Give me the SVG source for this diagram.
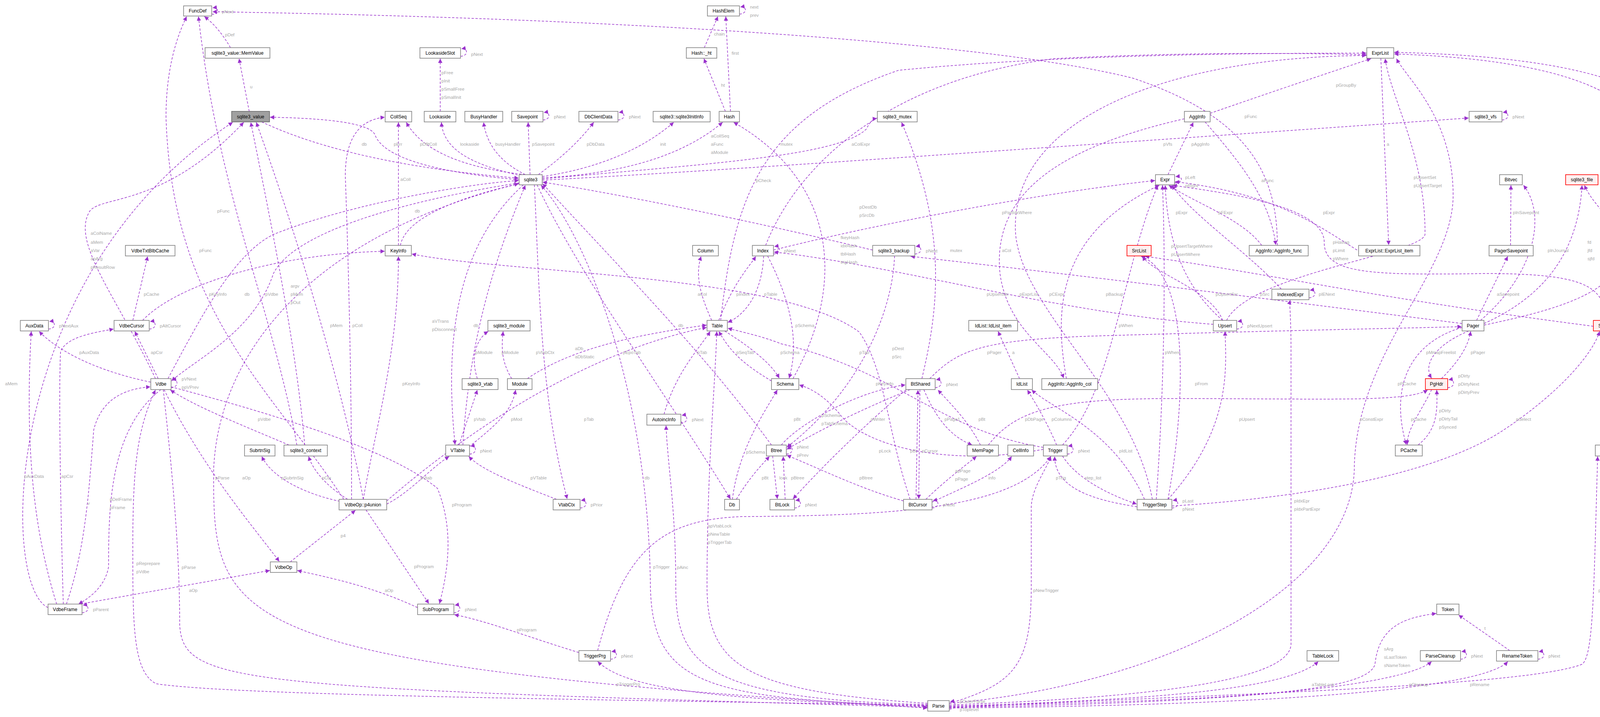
<svg xmlns="http://www.w3.org/2000/svg" width="4436" height="1835" viewBox="0 0 4436 1835">
<defs>
<marker id="a" viewBox="0 0 10 10" refX="10" refY="5" markerWidth="11" markerHeight="11" markerUnits="userSpaceOnUse" orient="auto"><path d="M0,0 L10,5 L0,10 z" fill="#9a32cd"/></marker>
</defs>
<style>
.n rect{fill:#fff;stroke:#808080;stroke-width:1.6}
.n.red rect{fill:#fff0f0;stroke:#ff0000}
.n.gr rect{fill:#a0a0a0;stroke:#666}
.n text{font-family:"Liberation Sans",Arial,sans-serif;font-size:12px;text-anchor:middle;fill:#000}
#edges path{fill:none;stroke:#9a32cd;stroke-width:1.5;stroke-dasharray:6,4;marker-end:url(#a)}
#labels text{font-family:"Liberation Sans",Arial,sans-serif;font-size:11.5px;fill:#a8a8a8}
</style>
<rect width="4436" height="1835" fill="#fff"/>
<g id="edges">
<path d="M542,36 C562,40 562,18 544,20"/>
<path d="M590,122 Q560,70 523,42"/>
<path d="M638,285 L612,150"/>
<path d="M670,312 Q900,420 1328,456"/>
<path d="M1329,460 C1100,440 980,400 960,345 C945,310 800,302 691,300"/>
<path d="M398,969 C300,760 180,620 230,540 C260,500 420,530 624,313"/>
<path d="M780,1139 C760,900 700,600 642,313"/>
<path d="M930,1278 C880,1000 760,600 656,313"/>
<path d="M123,1555 C0,1500 0,700 596,313"/>
<path d="M1345,447 Q1100,420 1040,313"/>
<path d="M1020,628 L1020,313"/>
<path d="M900,1278 Q900,900 884,450 Q884,310 985,300"/>
<path d="M760,1139 C700,800 560,500 508,42"/>
<path d="M880,1278 C700,1000 440,800 425,300 Q425,150 478,42"/>
<path d="M3270,628 C3270,450 3200,300 2900,200 C2500,100 1500,45 544,30"/>
<path d="M1179,144 C1199,144 1199,122 1181,125"/>
<path d="M1127,285 L1127,150"/>
<path d="M1335,450 C1200,420 1135,380 1130,313"/>
<path d="M1345,447 Q1250,400 1238,313"/>
<path d="M1357,447 L1352,313"/>
<path d="M1390,307 C1410,307 1410,285 1392,288"/>
<path d="M1378,447 Q1470,380 1520,313"/>
<path d="M1582,307 C1602,307 1602,285 1584,288"/>
<path d="M1388,452 Q1600,420 1725,313"/>
<path d="M1388,455 Q1700,440 1850,313"/>
<path d="M1857,285 L1802,150"/>
<path d="M1870,285 L1858,42"/>
<path d="M1803,122 L1838,42"/>
<path d="M1893,36 C1913,36 1913,15 1895,18"/>
<path d="M2030,969 C2180,700 2120,450 1878,313"/>
<path d="M1388,458 C1800,420 2150,400 2218,330 Q2230,305 2245,303"/>
<path d="M2360,969 C2400,800 2430,600 2308,313"/>
<path d="M1388,461 C1800,440 2500,390 3760,302"/>
<path d="M3845,307 C3865,307 3865,285 3847,288"/>
<path d="M3007,468 C3030,468 3030,450 3009,452"/>
<path d="M2990,447 L3055,313"/>
<path d="M3098,290 Q3300,220 3510,150"/>
<path d="M3085,312 C3160,400 3250,500 3266,627"/>
<path d="M3032,304 C2700,380 2540,500 2560,700 C2580,850 2700,900 2723,968"/>
<path d="M1845,820 C1880,500 1950,300 2300,180 C2700,140 3200,136 3498,136"/>
<path d="M1960,628 C2050,400 2300,200 2700,150 Q3100,130 3498,140"/>
<path d="M4110,820 Q4225,700 4224,400 Q4220,160 3569,138"/>
<path d="M4290,969 Q4327,900 4327,400 Q4320,150 3569,134"/>
<path d="M3535,149 L3555,627"/>
<path d="M3140,820 C3200,700 3640,650 3648,600 C3650,400 3560,250 3546,150"/>
<path d="M2950,1278 C2900,1000 2620,800 2600,600 C2580,300 3000,145 3498,142"/>
<path d="M2430,1800 C3000,1750 3460,1500 3467,1200 C3470,900 3720,700 3720,500 C3720,300 3600,200 3575,150"/>
<path d="M3500,655 C3400,600 3300,500 3008,465"/>
<path d="M3230,628 C3180,560 3060,520 2992,474"/>
<path d="M2730,969 C2700,800 2700,600 2968,474"/>
<path d="M1980,640 C2300,560 2700,490 2957,462"/>
<path d="M3280,740 C3200,650 3050,550 3000,474"/>
<path d="M3130,820 C3050,750 2990,650 2983,474"/>
<path d="M4110,820 C4110,730 4050,700 3800,700 C3500,705 3390,700 3390,620 C3390,520 3100,490 3002,474"/>
<path d="M2960,1278 C2980,1000 2985,700 2976,474"/>
<path d="M2720,1139 C2850,1000 2870,700 2964,474"/>
<path d="M4079,835 C3500,760 3250,700 2931,656"/>
<path d="M3130,820 C3100,740 2950,700 2925,656"/>
<path d="M2990,1278 C3040,1000 3040,700 2921,656"/>
<path d="M3166,842 C3186,842 3186,820 3168,823"/>
<path d="M3106,830 C2700,800 2300,680 1981,645"/>
<path d="M2990,1278 C3150,1100 3140,950 3136,848"/>
<path d="M2342,650 C2362,650 2362,628 2344,631"/>
<path d="M2234,640 C1900,560 1600,500 1389,466"/>
<path d="M2290,655 C2285,800 2200,1000 2014,1145"/>
<path d="M3743,828 C3200,760 2900,720 2331,656"/>
<path d="M3780,820 L3860,656"/>
<path d="M3867,628 L3868,474"/>
<path d="M3790,820 C3930,700 3960,550 3900,474"/>
<path d="M3799,828 C3950,760 4040,650 4050,474"/>
<path d="M4160,628 C4150,580 4080,530 4056,474"/>
<path d="M3799,832 C4000,790 4120,750 4160,656"/>
<path d="M3760,847 C3680,880 3640,930 3665,968"/>
<path d="M3690,969 C3740,920 3760,880 3765,848"/>
<path d="M3706,992 C3726,992 3726,969 3708,972"/>
<path d="M3743,838 C3600,880 3560,1000 3600,1138"/>
<path d="M3665,997 C3640,1050 3600,1100 3603,1138"/>
<path d="M3630,1139 C3680,1100 3680,1050 3678,998"/>
<path d="M2530,1139 C2600,1050 2700,1020 3000,1020 C3400,1020 3600,1030 3655,998"/>
<path d="M2380,969 C2450,900 2500,870 2800,860 C3300,845 3600,840 3742,836"/>
<path d="M4138,842 C4158,842 4158,820 4140,823"/>
<path d="M4108,847 L4108,1138"/>
<path d="M4262,969 L4131,848"/>
<path d="M4125,1139 L4264,998"/>
<path d="M4132,1162 C4152,1162 4152,1139 4134,1142"/>
<path d="M4290,969 L4385,848"/>
<path d="M3000,1295 C3400,1270 3700,1200 3850,1100 C4000,1000 4080,900 4095,848"/>
<path d="M2430,1812 C3000,1780 3900,1760 4050,1700 C4080,1680 4080,1500 4090,1168"/>
<path d="M430,969 C520,800 600,650 700,600 C900,520 1200,470 1328,462"/>
<path d="M1329,468 C1000,520 750,600 700,700 C650,850 500,920 439,975"/>
<path d="M438,992 C458,992 458,969 440,972"/>
<path d="M405,969 L345,848"/>
<path d="M382,842 C402,842 402,820 384,823"/>
<path d="M340,820 L378,656"/>
<path d="M365,820 C450,730 700,650 985,643"/>
<path d="M386,978 C250,950 150,900 100,848"/>
<path d="M124,842 C144,842 144,820 126,823"/>
<path d="M170,1546 C220,1400 228,1250 240,1100 C260,1020 320,995 385,990"/>
<path d="M145,1546 C100,1400 60,1200 80,848"/>
<path d="M162,1546 C155,1300 150,1000 155,900 C170,860 250,850 291,842"/>
<path d="M412,997 C280,1100 278,1300 278,1450 C270,1500 230,1530 201,1546"/>
<path d="M210,1568 C230,1568 230,1546 212,1549"/>
<path d="M205,1546 L691,1460"/>
<path d="M420,997 C520,1200 650,1350 715,1437"/>
<path d="M743,1438 L910,1306"/>
<path d="M937,1305 L1098,1545"/>
<path d="M1069,1555 C950,1500 850,1480 761,1460"/>
<path d="M1162,1568 C1182,1568 1182,1546 1164,1549"/>
<path d="M1482,1670 C1350,1630 1250,1590 1163,1573"/>
<path d="M1563,1687 C1583,1687 1583,1665 1565,1668"/>
<path d="M2375,1808 C1800,1790 1600,1760 1530,1693"/>
<path d="M438,990 C700,1060 1000,1150 1120,1250 C1160,1350 1150,1450 1125,1545"/>
<path d="M880,1285 C800,1270 700,1230 670,1168"/>
<path d="M890,1278 C830,1240 800,1200 790,1168"/>
<path d="M930,1278 C960,1100 1020,900 1020,656"/>
<path d="M990,1290 C1050,1260 1100,1200 1150,1168"/>
<path d="M990,1282 C1200,1100 1500,900 1809,838"/>
<path d="M740,1139 C600,1080 500,1040 436,998"/>
<path d="M2375,1805 C1500,1790 600,1780 400,1750 C340,1720 340,1600 340,1400 C340,1200 350,1100 398,998"/>
<path d="M418,997 C440,1200 460,1400 460,1600 C470,1750 600,1760 2374,1810"/>
<path d="M1329,470 C800,600 560,900 547,1200 C545,1600 560,1700 2374,1812"/>
<path d="M1340,473 C1200,600 1130,800 1165,1138"/>
<path d="M1185,1139 C1200,900 1250,700 1345,474"/>
<path d="M1175,1139 L1222,998"/>
<path d="M1200,1144 C1280,1080 1310,1050 1320,998"/>
<path d="M1202,1162 C1222,1162 1222,1139 1204,1142"/>
<path d="M1222,969 C1200,900 1230,860 1250,848"/>
<path d="M1310,969 C1280,920 1285,880 1288,848"/>
<path d="M1425,1278 C1300,1230 1230,1200 1200,1168"/>
<path d="M1485,1300 C1505,1300 1505,1278 1487,1281"/>
<path d="M1368,473 C1380,700 1380,1000 1452,1277"/>
<path d="M1350,969 C1450,900 1600,860 1809,832"/>
<path d="M2375,1800 C1900,1770 1810,1700 1810,1500 C1810,1200 1830,1000 1835,848"/>
<path d="M1822,820 C1790,750 1780,700 1795,656"/>
<path d="M1840,820 C1880,720 1920,680 1935,656"/>
<path d="M1955,655 C1950,760 1900,810 1863,825"/>
<path d="M1980,650 C2000,650 2000,628 1982,631"/>
<path d="M1965,655 C2040,800 2040,900 2020,968"/>
<path d="M1855,847 C1940,900 1980,940 1995,968"/>
<path d="M1975,975 C1900,930 1870,900 1840,848"/>
<path d="M1700,1060 C1730,950 1800,880 1818,848"/>
<path d="M1743,1083 C1763,1083 1763,1060 1745,1063"/>
<path d="M2375,1803 C1800,1790 1730,1700 1730,1500 C1730,1300 1710,1200 1705,1089"/>
<path d="M2375,1806 C1800,1790 1670,1750 1665,1500 C1660,1000 1500,600 1385,474"/>
<path d="M1530,1665 C1600,1400 1700,1330 1900,1322 C2300,1320 2600,1300 2690,1168"/>
<path d="M1375,473 C1480,700 1700,1000 1870,1277"/>
<path d="M1885,1278 C1920,1220 1950,1190 1970,1168"/>
<path d="M1875,1278 C1890,1150 1960,1050 1990,998"/>
<path d="M1975,1139 C1800,900 1600,700 1389,470"/>
<path d="M2013,1162 C2033,1162 2033,1139 2015,1142"/>
<path d="M2000,1139 C2050,1080 2200,1000 2318,985"/>
<path d="M2330,997 C2200,1050 2100,1100 2014,1150"/>
<path d="M2394,992 C2414,992 2414,969 2396,972"/>
<path d="M2365,997 C2400,1080 2440,1120 2489,1139"/>
<path d="M2510,1139 C2480,1080 2440,1040 2401,998"/>
<path d="M2671,1150 C2400,1200 2200,1130 2150,1060 C2100,1000 2060,990 2046,985"/>
<path d="M1978,1167 L1990,1277"/>
<path d="M2010,1278 L2005,1168"/>
<path d="M2320,997 C2200,1100 2100,1200 2030,1277"/>
<path d="M2034,1300 C2054,1300 2054,1278 2036,1281"/>
<path d="M2313,1282 C2200,1250 2100,1200 2014,1165"/>
<path d="M2345,1278 L2350,998"/>
<path d="M2355,997 L2352,1277"/>
<path d="M2370,1278 C2420,1230 2460,1200 2500,1168"/>
<path d="M2386,1285 C2460,1250 2560,1210 2590,1168"/>
<path d="M2386,1300 C2406,1300 2406,1278 2388,1281"/>
<path d="M2330,1278 C2270,1100 2268,950 2200,850 C2000,700 1300,700 1054,650"/>
<path d="M2732,1162 C2752,1162 2752,1139 2734,1142"/>
<path d="M2720,1167 C2760,1230 2850,1270 2910,1290"/>
<path d="M2911,1297 C2800,1280 2700,1250 2700,1168"/>
<path d="M3000,1300 C3020,1300 3020,1278 3002,1281"/>
<path d="M2705,1139 C2680,1080 2650,1030 2630,998"/>
<path d="M2930,1278 C2850,1100 2700,1050 2641,998"/>
<path d="M2610,969 L2555,848"/>
<path d="M2430,1800 C2600,1750 2640,1700 2640,1500 L2640,1300 C2640,1250 2680,1200 2690,1168"/>
<path d="M2671,1145 C2400,1100 2300,950 2000,880 C1950,860 1900,850 1863,840"/>
<path d="M2430,1815 C2450,1815 2450,1793 2432,1796"/>
<path d="M2430,1807 C3000,1790 3300,1760 3375,1693"/>
<path d="M2430,1808 C3200,1790 3500,1770 3520,1700 C3530,1600 3600,1580 3677,1570"/>
<path d="M2430,1810 C3200,1800 3600,1750 3665,1693"/>
<path d="M3739,1687 C3759,1687 3759,1665 3741,1668"/>
<path d="M2430,1812 C3300,1805 3800,1760 3860,1693"/>
<path d="M3865,1665 L3734,1574"/>
<path d="M3937,1687 C3957,1687 3957,1665 3939,1668"/>
<path d="M2430,1804 C3100,1780 3300,1720 3305,1650 L3305,900 C3305,800 3300,780 3303,768"/>
<path d="M3351,762 C3371,762 3371,740 3353,743"/>
<path d="M1025,628 C1040,550 1200,500 1328,470"/>
</g>
<g id="labels">
<text x="568" y="34">pNext</text><text x="576" y="93">pDef</text><text x="640" y="226">u</text>
<text x="926" y="373">db</text><text x="1008" y="373">pErr</text>
<text x="232" y="601">aColName</text><text x="232" y="624">aMem</text><text x="232" y="645">aVar</text><text x="232" y="666">apArg</text><text x="232" y="688">pResultRow</text>
<text x="744" y="736">argv</text><text x="744" y="757">pMem</text><text x="744" y="778">pOut</text>
<text x="845" y="837">pMem</text><text x="13" y="986">aMem</text>
<text x="1075" y="373">pDfltColl</text><text x="1025" y="463">aColl</text><text x="902" y="837">pColl</text>
<text x="556" y="544">pFunc</text><text x="510" y="645">pFunc</text><text x="3186" y="302">pFunc</text>
<text x="1206" y="143">pNext</text>
<text x="1130" y="190">pFree</text><text x="1130" y="211">pInit</text><text x="1130" y="232">pSmallFree</text><text x="1130" y="253">pSmallInit</text>
<text x="1178" y="373">lookaside</text><text x="1268" y="373">busyHandler</text><text x="1362" y="373">pSavepoint</text>
<text x="1418" y="303">pNext</text><text x="1502" y="373">pDbData</text><text x="1610" y="303">pNext</text>
<text x="1690" y="373">init</text>
<text x="1820" y="352">aCollSeq</text><text x="1820" y="373">aFunc</text><text x="1820" y="394">aModule</text>
<text x="1846" y="222">ht</text><text x="1873" y="140">first</text><text x="1828" y="91">chain</text>
<text x="1920" y="22">next</text><text x="1920" y="43">prev</text>
<text x="2152" y="612">fkeyHash</text><text x="2152" y="633">idxHash</text><text x="2152" y="654">tblHash</text><text x="2152" y="675">trigHash</text>
<text x="1998" y="373">mutex</text><text x="2432" y="645">mutex</text><text x="2978" y="373">pVfs</text>
<text x="3872" y="303">pNext</text>
<text x="3034" y="458">pLeft</text><text x="3034" y="479">pRight</text>
<text x="3050" y="373">pAggInfo</text><text x="3420" y="222">pGroupBy</text><text x="3229" y="466">aFunc</text><text x="2565" y="645">aCol</text>
<text x="1935" y="466">pCheck</text><text x="2180" y="373">aColExpr</text>
<text x="4228" y="446">pEList</text><text x="4228" y="467">pGroupBy</text><text x="4228" y="488">pOrderBy</text>
<text x="4331" y="548">pCols</text><text x="3550" y="373">a</text>
<text x="3619" y="458">pUpsertSet</text><text x="3619" y="479">pUpsertTarget</text>
<text x="2610" y="757">pExprList</text><text x="3481" y="1077">pConstExpr</text>
<text x="3387" y="548">pExpr</text><text x="3119" y="548">pFExpr</text><text x="2686" y="757">pCExpr</text>
<text x="2565" y="548">pPartIdxWhere</text><text x="3010" y="548">pExpr</text>
<text x="2998" y="634">pUpsertTargetWhere</text><text x="2998" y="655">pUpsertWhere</text>
<text x="3412" y="624">pHaving</text><text x="3412" y="645">pLimit</text><text x="3412" y="666">pWhere</text>
<text x="2982" y="906">pWhere</text><text x="2864" y="837">pWhen</text>
<text x="3226" y="757">pSrc</text><text x="3112" y="757">pUpsertSrc</text><text x="3059" y="986">pFrom</text>
<text x="3193" y="838">pNextUpsert</text><text x="2526" y="757">pUpsertIdx</text><text x="3172" y="1077">pUpsert</text>
<text x="2370" y="646">pNext</text><text x="2200" y="534">pDestDb</text><text x="2200" y="555">pSrcDb</text>
<text x="2284" y="896">pDest</text><text x="2284" y="917">pSrc</text><text x="2831" y="757">pBackup</text>
<text x="3832" y="757">aSavepoint</text><text x="3873" y="548">pInSavepoint</text><text x="3962" y="645">pInJournal</text>
<text x="4064" y="624">fd</text><text x="4064" y="645">jfd</text><text x="4064" y="666">sjfd</text>
<text x="4097" y="534">pDbFd</text><text x="4097" y="555">pWalFd</text><text x="4108" y="757">pWal</text>
<text x="3651" y="906">pMmapFreelist</text><text x="3765" y="906">pPager</text>
<text x="3733" y="966">pDirty</text><text x="3733" y="987">pDirtyNext</text><text x="3733" y="1008">pDirtyPrev</text>
<text x="3578" y="986">pPCache</text><text x="3612" y="1077">pCache</text>
<text x="3684" y="1055">pDirty</text><text x="3684" y="1076">pDirtyTail</text><text x="3684" y="1097">pSynced</text>
<text x="2624" y="1077">pDbPage</text><text x="2527" y="906">pPager</text>
<text x="4165" y="828">pNext</text><text x="4165" y="849">pPrior</text>
<text x="4112" y="986">pWith</text><text x="4215" y="906">pSelect</text><text x="4228" y="1077">a</text><text x="4159" y="1158">pOuter</text><text x="4380" y="906">pUse</text>
<text x="3881" y="1077">pSelect</text><text x="4092" y="1515">pWith</text>
<text x="626" y="757">db</text><text x="679" y="757">pVdbe</text>
<text x="465" y="974">pVNext</text><text x="465" y="995">ppVPrev</text>
<text x="386" y="906">apCsr</text><text x="409" y="838">pAltCursor</text><text x="368" y="757">pCache</text><text x="535" y="757">pKeyInfo</text>
<text x="203" y="906">pAuxData</text><text x="151" y="838">pNextAux</text>
<text x="224" y="1292">v</text><text x="62" y="1223">pAuxData</text><text x="157" y="1223">apCsr</text>
<text x="281" y="1282">pDelFrame</text><text x="281" y="1303">pFrame</text><text x="238" y="1564">pParent</text>
<text x="484" y="1515">aOp</text><text x="620" y="1227">aOp</text><text x="872" y="1375">p4</text>
<text x="1060" y="1454">pProgram</text><text x="985" y="1515">aOp</text><text x="1190" y="1564">pNext</text>
<text x="1323" y="1616">pProgram</text><text x="1590" y="1683">pNext</text><text x="1578" y="1755">pTriggerPrg</text>
<text x="1157" y="1296">pProgram</text><text x="720" y="1227">pSubrtnSig</text><text x="824" y="1227">pCtx</text>
<text x="1030" y="986">pKeyInfo</text><text x="1076" y="1227">pVtab</text><text x="1495" y="1077">pTab</text>
<text x="660" y="1077">pVdbe</text>
<text x="349" y="1446">pReprepare</text><text x="349" y="1467">pVdbe</text><text x="465" y="1456">pParse</text><text x="551" y="1227">pParse</text>
<text x="1106" y="826">aVTrans</text><text x="1106" y="847">pDisconnect</text><text x="1212" y="837">db</text>
<text x="1213" y="1077">pVtab</text><text x="1308" y="1077">pMod</text><text x="1229" y="1158">pNext</text>
<text x="1217" y="906">pModule</text><text x="1284" y="906">pModule</text>
<text x="1358" y="1227">pVTable</text><text x="1512" y="1296">pPrior</text><text x="1372" y="906">pVtabCtx</text>
<text x="1595" y="906">pEpoTab</text>
<text x="1812" y="1350">apVtabLock</text><text x="1812" y="1371">pNewTable</text><text x="1812" y="1392">pTriggerTab</text>
<text x="1786" y="757">aCol</text><text x="1885" y="757">pIndex</text><text x="1956" y="757">pTable</text><text x="2007" y="646">pNext</text>
<text x="2036" y="837">pSchema</text><text x="1998" y="906">pSchema</text><text x="1885" y="906">pSeqTab</text><text x="1785" y="906">pTab</text>
<text x="1771" y="1078">pNext</text><text x="1733" y="1456">pAinc</text><text x="1650" y="1227">db</text><text x="1672" y="1455">pTrigger</text>
<text x="1472" y="896">aDb</text><text x="1472" y="917">aDbStatic</text>
<text x="1950" y="1227">pBt</text><text x="1910" y="1161">pSchema</text><text x="1736" y="837">db</text>
<text x="2040" y="1148">pNext</text><text x="2040" y="1169">pPrev</text>
<text x="2032" y="1077">pBt</text><text x="2229" y="1077">pWriter</text><text x="2422" y="988">pNext</text>
<text x="2418" y="1077">pPage1</text><text x="2505" y="1077">pBt</text>
<text x="2103" y="1067">pSchema</text><text x="2103" y="1088">pTabSchema</text>
<text x="1995" y="1227">lock</text><text x="2025" y="1227">pBtree</text><text x="2250" y="1158">pLock</text><text x="2061" y="1296">pNext</text>
<text x="2200" y="1227">pBtree</text><text x="2330" y="1158">pBt</text><text x="2360" y="1158">pCursor</text>
<text x="2445" y="1209">apPage</text><text x="2445" y="1230">pPage</text><text x="2530" y="1227">info</text><text x="2414" y="1296">pNext</text>
<text x="2242" y="986">pKeyInfo</text>
<text x="2760" y="1158">pNext</text><text x="2777" y="1227">step_list</text><text x="2703" y="1227">pTrig</text>
<text x="3027" y="1286">pLast</text><text x="3027" y="1307">pNext</text>
<text x="2692" y="1077">pColumns</text><text x="2865" y="1158">pIdList</text><text x="2591" y="906">a</text>
<text x="2645" y="1515">pNewTrigger</text><text x="2200" y="906">pTab</text>
<text x="2457" y="1799">pOuterParse</text><text x="2457" y="1820">pToplevel</text>
<text x="3358" y="1756">aTableLock</text>
<text x="3543" y="1665">sArg</text><text x="3543" y="1686">sLastToken</text><text x="3543" y="1707">sNameToken</text>
<text x="3607" y="1756">pCleanup</text><text x="3766" y="1683">pNext</text><text x="3763" y="1756">pRename</text>
<text x="3800" y="1612">t</text><text x="3964" y="1683">pNext</text>
<text x="3313" y="1286">pIdxEpr</text><text x="3313" y="1307">pIdxPartExpr</text>
<text x="3376" y="757">pIENext</text>
<text x="1062" y="544">db</text>
</g>
<g id="n_FuncDef" class="n"><rect x="470" y="15" width="72" height="26"/><text x="506" y="32">FuncDef</text></g>
<g id="n_MemValue" class="n"><rect x="525" y="122" width="166" height="27"/><text x="608" y="140">sqlite3_value::MemValue</text></g>
<g id="n_sqlite3_value" class="n gr"><rect x="593" y="285" width="97" height="27"/><text x="641.5" y="303">sqlite3_value</text></g>
<g id="n_CollSeq" class="n"><rect x="986" y="285" width="68" height="27"/><text x="1020" y="303">CollSeq</text></g>
<g id="n_LookasideSlot" class="n"><rect x="1075" y="122" width="104" height="27"/><text x="1127" y="140">LookasideSlot</text></g>
<g id="n_HashElem" class="n"><rect x="1811" y="15" width="82" height="26"/><text x="1852" y="32">HashElem</text></g>
<g id="n_Hash_ht" class="n"><rect x="1757" y="122" width="78" height="27"/><text x="1796" y="140">Hash::_ht</text></g>
<g id="n_Lookaside" class="n"><rect x="1086" y="285" width="81" height="27"/><text x="1126.5" y="303">Lookaside</text></g>
<g id="n_BusyHandler" class="n"><rect x="1190" y="285" width="97" height="27"/><text x="1238.5" y="303">BusyHandler</text></g>
<g id="n_Savepoint" class="n"><rect x="1310" y="285" width="80" height="27"/><text x="1350" y="303">Savepoint</text></g>
<g id="n_DbClientData" class="n"><rect x="1482" y="285" width="100" height="27"/><text x="1532" y="303">DbClientData</text></g>
<g id="n_InitInfo" class="n"><rect x="1672" y="285" width="146" height="27"/><text x="1745" y="303">sqlite3::sqlite3InitInfo</text></g>
<g id="n_Hash" class="n"><rect x="1841" y="285" width="52" height="27"/><text x="1867" y="303">Hash</text></g>
<g id="n_sqlite3" class="n"><rect x="1329" y="447" width="59" height="26"/><text x="1358.5" y="464">sqlite3</text></g>
<g id="n_sqlite3_mutex" class="n"><rect x="2246" y="285" width="102" height="27"/><text x="2297" y="303">sqlite3_mutex</text></g>
<g id="n_AggInfo" class="n"><rect x="3032" y="285" width="66" height="27"/><text x="3065" y="303">AggInfo</text></g>
<g id="n_Expr" class="n"><rect x="2958" y="447" width="49" height="26"/><text x="2982.5" y="464">Expr</text></g>
<g id="n_ExprList" class="n"><rect x="3499" y="122" width="69" height="27"/><text x="3533.5" y="140">ExprList</text></g>
<g id="n_sqlite3_vfs" class="n"><rect x="3761" y="285" width="84" height="27"/><text x="3803" y="303">sqlite3_vfs</text></g>
<g id="n_Bitvec" class="n"><rect x="3839" y="447" width="58" height="26"/><text x="3868" y="464">Bitvec</text></g>
<g id="n_sqlite3_file" class="n red"><rect x="4008" y="447" width="83" height="26"/><text x="4049.5" y="464">sqlite3_file</text></g>
<g id="n_VdbeTxtBlbCache" class="n"><rect x="321" y="628" width="127" height="27"/><text x="384.5" y="646">VdbeTxtBlbCache</text></g>
<g id="n_KeyInfo" class="n"><rect x="986" y="628" width="67" height="27"/><text x="1019.5" y="646">KeyInfo</text></g>
<g id="n_AuxData" class="n"><rect x="52" y="820" width="72" height="27"/><text x="88" y="838">AuxData</text></g>
<g id="n_VdbeCursor" class="n"><rect x="292" y="820" width="90" height="27"/><text x="337" y="838">VdbeCursor</text></g>
<g id="n_Vdbe" class="n"><rect x="386" y="969" width="52" height="28"/><text x="412" y="987">Vdbe</text></g>
<g id="n_SubrtnSig" class="n"><rect x="626" y="1139" width="78" height="28"/><text x="665" y="1157">SubrtnSig</text></g>
<g id="n_sqlite3_context" class="n"><rect x="727" y="1139" width="111" height="28"/><text x="782.5" y="1157">sqlite3_context</text></g>
<g id="n_Column" class="n"><rect x="1773" y="628" width="66" height="27"/><text x="1806" y="646">Column</text></g>
<g id="n_Index" class="n"><rect x="1926" y="628" width="54" height="27"/><text x="1953" y="646">Index</text></g>
<g id="n_Table" class="n"><rect x="1810" y="820" width="52" height="27"/><text x="1836" y="838">Table</text></g>
<g id="n_sqlite3_module" class="n"><rect x="1249" y="820" width="108" height="27"/><text x="1303" y="838">sqlite3_module</text></g>
<g id="n_sqlite3_vtab" class="n"><rect x="1183" y="969" width="92" height="28"/><text x="1229" y="987">sqlite3_vtab</text></g>
<g id="n_Module" class="n"><rect x="1299" y="969" width="63" height="28"/><text x="1330.5" y="987">Module</text></g>
<g id="n_Schema" class="n"><rect x="1975" y="969" width="70" height="28"/><text x="2010" y="987">Schema</text></g>
<g id="n_AutoincInfo" class="n"><rect x="1656" y="1060" width="87" height="28"/><text x="1699.5" y="1078">AutoincInfo</text></g>
<g id="n_VTable" class="n"><rect x="1141" y="1139" width="61" height="28"/><text x="1171.5" y="1157">VTable</text></g>
<g id="n_Btree" class="n"><rect x="1962" y="1139" width="51" height="28"/><text x="1987.5" y="1157">Btree</text></g>
<g id="n_sqlite3_backup" class="n"><rect x="2234" y="628" width="108" height="27"/><text x="2288" y="646">sqlite3_backup</text></g>
<g id="n_SrcList" class="n red"><rect x="2885" y="628" width="62" height="27"/><text x="2916" y="646">SrcList</text></g>
<g id="n_AggInfo_func" class="n"><rect x="3198" y="628" width="151" height="27"/><text x="3273.5" y="646">AggInfo::AggInfo_func</text></g>
<g id="n_IndexedExpr" class="n"><rect x="3256" y="740" width="95" height="27"/><text x="3303.5" y="758">IndexedExpr</text></g>
<g id="n_IdList_item" class="n"><rect x="2480" y="820" width="125" height="27"/><text x="2542.5" y="838">IdList::IdList_item</text></g>
<g id="n_Upsert" class="n"><rect x="3106" y="820" width="60" height="27"/><text x="3136" y="838">Upsert</text></g>
<g id="n_BtShared" class="n"><rect x="2319" y="969" width="75" height="28"/><text x="2356.5" y="987">BtShared</text></g>
<g id="n_IdList" class="n"><rect x="2589" y="969" width="54" height="28"/><text x="2616" y="987">IdList</text></g>
<g id="n_AggInfo_col" class="n"><rect x="2667" y="969" width="143" height="28"/><text x="2738.5" y="987">AggInfo::AggInfo_col</text></g>
<g id="n_MemPage" class="n"><rect x="2476" y="1139" width="80" height="28"/><text x="2516" y="1157">MemPage</text></g>
<g id="n_CellInfo" class="n"><rect x="2580" y="1139" width="66" height="28"/><text x="2613" y="1157">CellInfo</text></g>
<g id="n_Trigger" class="n"><rect x="2671" y="1139" width="61" height="28"/><text x="2701.5" y="1157">Trigger</text></g>
<g id="n_ExprList_item" class="n"><rect x="3478" y="628" width="157" height="27"/><text x="3556.5" y="646">ExprList::ExprList_item</text></g>
<g id="n_PagerSavepoint" class="n"><rect x="3812" y="628" width="113" height="27"/><text x="3868.5" y="646">PagerSavepoint</text></g>
<g id="n_Wal" class="n red"><rect x="4142" y="628" width="44" height="27"/><text x="4164" y="646">Wal</text></g>
<g id="n_Pager" class="n"><rect x="3743" y="820" width="56" height="27"/><text x="3771" y="838">Pager</text></g>
<g id="n_Select" class="n red"><rect x="4079" y="820" width="59" height="27"/><text x="4108.5" y="838">Select</text></g>
<g id="n_CteUse" class="n"><rect x="4364" y="820" width="66" height="27"/><text x="4397" y="838">CteUse</text></g>
<g id="n_PgHdr" class="n red"><rect x="3649" y="969" width="57" height="28"/><text x="3677.5" y="987">PgHdr</text></g>
<g id="n_Cte" class="n"><rect x="4262" y="969" width="42" height="28"/><text x="4283" y="987">Cte</text></g>
<g id="n_PCache" class="n"><rect x="3572" y="1139" width="69" height="28"/><text x="3606.5" y="1157">PCache</text></g>
<g id="n_With" class="n"><rect x="4084" y="1139" width="48" height="28"/><text x="4108" y="1157">With</text></g>
<g id="n_p4union" class="n"><rect x="868" y="1278" width="122" height="27"/><text x="929" y="1296">VdbeOp::p4union</text></g>
<g id="n_VdbeOp" class="n"><rect x="692" y="1438" width="68" height="27"/><text x="726" y="1456">VdbeOp</text></g>
<g id="n_VdbeFrame" class="n"><rect x="123" y="1546" width="87" height="27"/><text x="166.5" y="1564">VdbeFrame</text></g>
<g id="n_SubProgram" class="n"><rect x="1069" y="1546" width="93" height="27"/><text x="1115.5" y="1564">SubProgram</text></g>
<g id="n_VtabCtx" class="n"><rect x="1416" y="1278" width="69" height="27"/><text x="1450.5" y="1296">VtabCtx</text></g>
<g id="n_Db" class="n"><rect x="1855" y="1278" width="38" height="27"/><text x="1874" y="1296">Db</text></g>
<g id="n_BtLock" class="n"><rect x="1971" y="1278" width="63" height="27"/><text x="2002.5" y="1296">BtLock</text></g>
<g id="n_TriggerPrg" class="n"><rect x="1482" y="1665" width="81" height="27"/><text x="1522.5" y="1683">TriggerPrg</text></g>
<g id="n_BtCursor" class="n"><rect x="2313" y="1278" width="73" height="27"/><text x="2349.5" y="1296">BtCursor</text></g>
<g id="n_TriggerStep" class="n"><rect x="2911" y="1278" width="89" height="27"/><text x="2955.5" y="1296">TriggerStep</text></g>
<g id="n_Parse" class="n"><rect x="2375" y="1793" width="55" height="27"/><text x="2402.5" y="1811">Parse</text></g>
<g id="n_Token" class="n"><rect x="3678" y="1546" width="57" height="27"/><text x="3706.5" y="1564">Token</text></g>
<g id="n_TableLock" class="n"><rect x="3346" y="1665" width="81" height="27"/><text x="3386.5" y="1683">TableLock</text></g>
<g id="n_ParseCleanup" class="n"><rect x="3636" y="1665" width="103" height="27"/><text x="3687.5" y="1683">ParseCleanup</text></g>
<g id="n_RenameToken" class="n"><rect x="3831" y="1665" width="106" height="27"/><text x="3884" y="1683">RenameToken</text></g>
</svg>
